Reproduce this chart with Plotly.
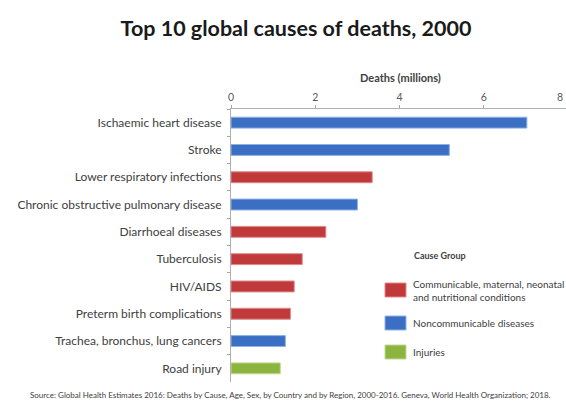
import plotly.graph_objects as go

# Deaths in 2000 (millions), top 10 causes
causes = [
    "Ischaemic heart disease",
    "Stroke",
    "Lower respiratory infections",
    "Chronic obstructive pulmonary disease",
    "Diarrhoeal diseases",
    "Tuberculosis",
    "HIV/AIDS",
    "Preterm birth complications",
    "Trachea, bronchus, lung cancers",
    "Road injury",
]
deaths = [7.02, 5.18, 3.35, 3.00, 2.25, 1.69, 1.50, 1.41, 1.29, 1.17]
groups = ["NCD", "NCD", "CMN", "NCD", "CMN", "CMN", "CMN", "CMN", "NCD", "INJ"]

group_names = {
    "CMN": "Communicable, maternal, neonatal<br>and nutritional conditions",
    "NCD": "Noncommunicable diseases",
    "INJ": "Injuries",
}
group_order = ["CMN", "NCD", "INJ"]
fill = {"CMN": "#C0393B", "NCD": "#3B6FC4", "INJ": "#8DB43F"}
edge = {"CMN": "#E08A8A", "NCD": "#8FB2E6", "INJ": "#C3DC92"}

x_ticks = [0, 2, 4, 6, 8]

W, H = 566, 403
L, R, T, B = 231, 0, 109, 21
PW, PH = W - L - R, H - T - B
x_max = PW / 42.15  # 8 falls just past the right edge


def px(x):
    return (x - L) / PW


def py(y):
    return (H - B - y) / PH


fig = go.Figure()
fig.add_trace(go.Bar(
    x=deaths,
    y=causes,
    orientation="h",
    width=0.4,
    marker=dict(
        color=[fill[g] for g in groups],
        line=dict(color=[edge[g] for g in groups], width=1),
    ),
    showlegend=False,
    hovertemplate="%{y}: %{x}<extra></extra>",
))

font = "Lato, 'Open Sans', Arial, sans-serif"

fig.update_layout(
    width=W,
    height=H,
    margin=dict(l=L, r=R, t=T, b=B, autoexpand=False),
    paper_bgcolor="white",
    plot_bgcolor="white",
    font=dict(family=font, color="#404040"),
    bargap=0.6,
    title=dict(
        text="<b>Top 10 global causes of deaths, 2000</b>",
        font=dict(size=21.5, color="#1a1a1a", family=font),
        xref="container", yref="container",
        x=296 / W, y=1 - 28 / H, xanchor="center", yanchor="middle",
    ),
    xaxis=dict(
        side="top",
        range=[0, x_max],
        tickvals=x_ticks,
        ticktext=[str(v) for v in x_ticks],
        ticks="outside", ticklen=3, tickcolor="#a6a6a6",
        showline=True, linecolor="#b0b0b0", linewidth=1,
        showgrid=False, zeroline=False,
        tickfont=dict(size=10.5, color="#595959"),
        fixedrange=True,
    ),
    yaxis=dict(
        categoryorder="array",
        categoryarray=causes,
        autorange="reversed",
        ticks="outside", ticklen=3, tickcolor="#a6a6a6",
        tickson="boundaries",
        showline=True, linecolor="#b0b0b0", linewidth=1,
        showgrid=False, zeroline=False,
        tickfont=dict(size=12, color="#404040"),
        ticklabelstandoff=6,
        fixedrange=True,
    ),
)

# axis title above the top tick labels
fig.add_annotation(
    text="<b>Deaths (millions)</b>", xref="paper", yref="paper",
    x=px(400), y=py(77), showarrow=False,
    xanchor="center", yanchor="middle",
    font=dict(size=11, color="#404040"),
)
# the "8" tick label, held inside the right edge
fig.add_annotation(
    text="8", xref="paper", yref="paper",
    x=px(565), y=py(97.5), showarrow=False,
    xanchor="right", yanchor="middle",
    font=dict(size=10.5, color="#595959"),
)

# legend: title, colour swatches and labels
fig.add_annotation(
    text="<b>Cause Group</b>", xref="paper", yref="paper",
    x=px(412), y=py(255), xanchor="left", yanchor="middle", showarrow=False,
    font=dict(size=9, color="#404040"),
)
swatch_y = {"CMN": 290, "NCD": 323, "INJ": 352}
for g in group_order:
    yc = swatch_y[g]
    fig.add_shape(
        type="rect", xref="paper", yref="paper",
        x0=px(385), x1=px(406), y0=py(yc - 7), y1=py(yc + 7),
        fillcolor=fill[g], line=dict(color=edge[g], width=1),
    )
    fig.add_annotation(
        text=group_names[g], xref="paper", yref="paper",
        x=px(411), y=py(yc), xanchor="left", yanchor="middle",
        align="left", showarrow=False,
        font=dict(size=10, color="#404040"),
    )

# source line
fig.add_annotation(
    text=("Source: Global Health Estimates 2016: Deaths by Cause, Age, Sex, by Country "
          "and by Region, 2000-2016. Geneva, World Health Organization; 2018."),
    xref="paper", yref="paper", x=px(28), y=py(395),
    xanchor="left", yanchor="middle", showarrow=False,
    font=dict(size=8.0, color="#404040"),
)

fig.write_html("out.html")
